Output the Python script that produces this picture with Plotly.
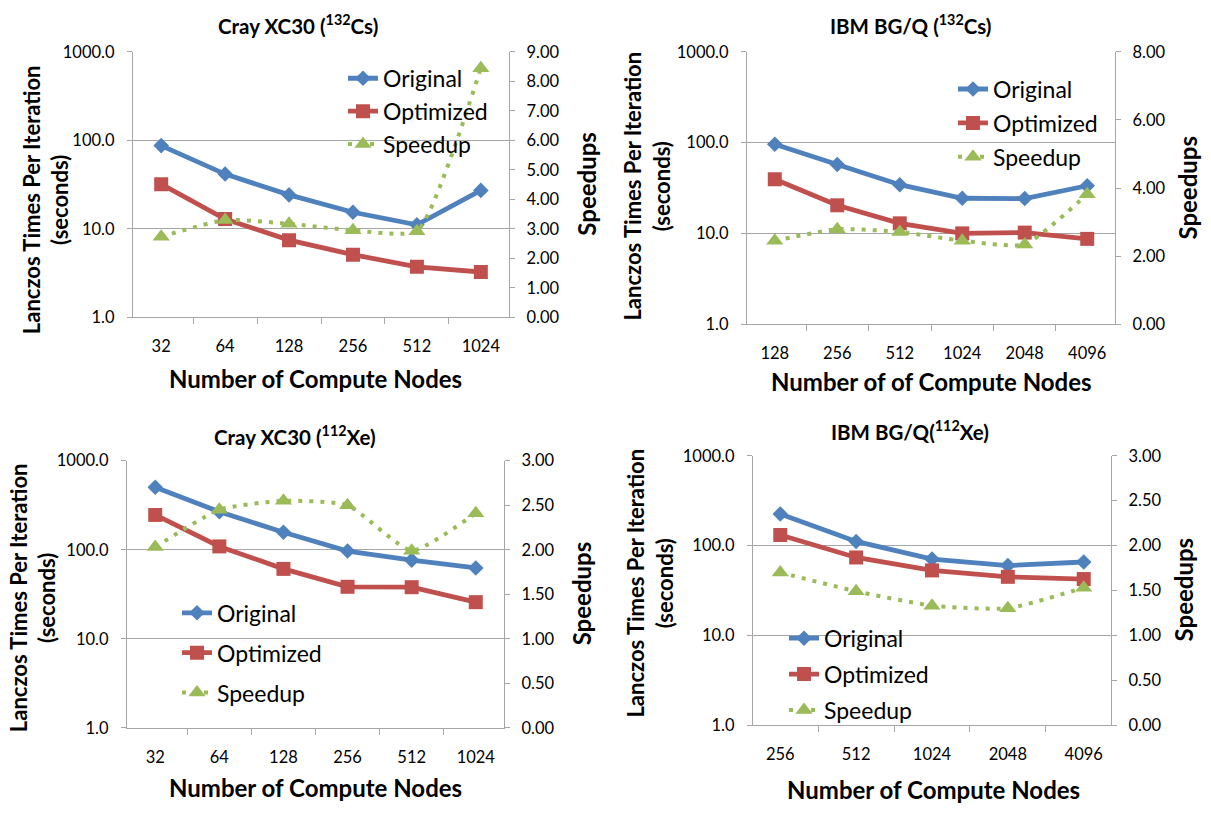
import plotly.graph_objects as go

W, H = 1211, 815
FONT = "Lato"

# ---------------- data ----------------
nodes_cray = ["32", "64", "128", "256", "512", "1024"]
nodes_bgq_cs = ["128", "256", "512", "1024", "2048", "4096"]
nodes_bgq_xe = ["256", "512", "1024", "2048", "4096"]

cray_cs_orig = [87.3, 41.6, 24.2, 15.4, 11.1, 27.2]
cray_cs_opt = [32.0, 12.9, 7.45, 5.1, 3.72, 3.25]
cray_cs_speed = [2.73, 3.30, 3.17, 2.95, 2.92, 8.45]

bgq_cs_orig = [96.0, 57.4, 34.4, 24.4, 24.2, 33.5]
bgq_cs_opt = [39.5, 20.4, 12.9, 10.0, 10.2, 8.7]
bgq_cs_speed = [2.45, 2.79, 2.71, 2.45, 2.34, 3.82]

cray_xe_orig = [502, 267, 157, 96.7, 76.4, 62.5]
cray_xe_opt = [246, 109, 61, 38.4, 38.0, 25.8]
cray_xe_speed = [2.03, 2.45, 2.55, 2.50, 1.99, 2.41]

bgq_xe_orig = [225, 111, 70.6, 59.8, 65.5]
bgq_xe_opt = [131, 73.6, 52.8, 44.8, 42.3]
bgq_xe_speed = [1.70, 1.49, 1.33, 1.30, 1.53]

log_ticks = [1, 10, 100, 1000]
log_ticktext = ["1.0", "10.0", "100.0", "1000.0"]

series_names = ["Original", "Optimized", "Speedup"]

# ---------------- layout config (pixels) ----------------
panels = [
    dict(title="<b>Cray XC30 (<sup>132</sup>Cs)</b>", xtitle="Number of Compute Nodes",
         cats=nodes_cray, orig=cray_cs_orig, opt=cray_cs_opt, sp=cray_cs_speed,
         box=(133, 509, 43, 315), rmax=9, rdt=1,
         t_xy=(298, 15), xt_xy=(315, 378), lt_xy=(46, 195), rt_xy=(587, 178),
         leg=(343, 48), gap=0, cover=(330, 508, 135)),
    dict(title="<b>IBM BG/Q (<sup>132</sup>Cs)</b>", xtitle="Number of of Compute Nodes",
         cats=nodes_bgq_cs, orig=bgq_cs_orig, opt=bgq_cs_opt, sp=bgq_cs_speed,
         box=(747, 1115, 43, 322), rmax=8, rdt=2,
         t_xy=(911, 15), xt_xy=(931, 381), lt_xy=(647, 181), rt_xy=(1188, 182),
         leg=(953, 59), gap=1, cover=(948, 1104, 137)),
    dict(title="<b>Cray XC30 (<sup>112</sup>Xe)</b>", xtitle="Number of Compute Nodes",
         cats=nodes_cray, orig=cray_xe_orig, opt=cray_xe_opt, sp=cray_xe_speed,
         box=(127, 504, 462, 736), rmax=3, rdt=0.5,
         t_xy=(295, 436), xt_xy=(315, 797), lt_xy=(33, 603), rt_xy=(581, 598),
         leg=(177, 596), gap=7, cover=(171, 333, 644)),
    dict(title="<b>IBM BG/Q(<sup>112</sup>Xe)</b>", xtitle="Number of Compute Nodes",
         cats=nodes_bgq_xe, orig=bgq_xe_orig, opt=bgq_xe_opt, sp=bgq_xe_speed,
         box=(753, 1111, 457, 733), rmax=3, rdt=0.5,
         t_xy=(910, 431), xt_xy=(933, 799), lt_xy=(650, 588), rt_xy=(1183, 594),
         leg=(784, 622), gap=3, cover=(781, 938, 641)),
]

BLUE = "#4F81BD"
RED = "#C0504D"
GREEN = "#9BBB59"
GRID = "#A6A6A6"


def px(x):
    return x / W


def py(y):
    return 1 - y / H


fig = go.Figure()
annotations = []
shapes = []
layout = dict(
    width=W, height=H, margin=dict(l=0, r=0, t=0, b=0),
    paper_bgcolor="white", plot_bgcolor="rgba(0,0,0,0)",
    font=dict(family=FONT, color="black"),
    showlegend=True,
)

for i, p in enumerate(panels):
    n = i + 1
    xa = "x" if n == 1 else f"x{n}"
    yl_idx = 2 * n - 1
    yr_idx = 2 * n
    yl = "y" if yl_idx == 1 else f"y{yl_idx}"
    yr = f"y{yr_idx}"
    leg = "legend" if n == 1 else f"legend{n}"

    x0, x1, y0, y1 = p["box"]

    fig.add_trace(go.Scatter(
        x=p["cats"], y=p["orig"], name=series_names[0], xaxis=xa, yaxis=yl,
        mode="lines+markers", legend=leg, legendgroup=f"o{n}",
        line=dict(color=BLUE, width=4.8),
        marker=dict(symbol="diamond", size=12, color=BLUE)))
    fig.add_trace(go.Scatter(
        x=p["cats"], y=p["opt"], name=series_names[1], xaxis=xa, yaxis=yl,
        mode="lines+markers", legend=leg, legendgroup=f"p{n}",
        line=dict(color=RED, width=4.8),
        marker=dict(symbol="square", size=14, color=RED)))
    fig.add_trace(go.Scatter(
        x=p["cats"], y=p["sp"], name=series_names[2], xaxis=xa, yaxis=yr,
        mode="lines+markers", legend=leg, legendgroup=f"s{n}",
        line=dict(color=GREEN, width=4, dash="4px,7px", shape="spline", smoothing=0.5),
        marker=dict(symbol="triangle-up", size=15, color=GREEN)))

    xkey = "xaxis" if n == 1 else f"xaxis{n}"
    ylkey = "yaxis" if yl_idx == 1 else f"yaxis{yl_idx}"
    yrkey = f"yaxis{yr_idx}"

    layout[xkey] = dict(
        type="category", domain=[px(x0), px(x1)], anchor=yl,
        tickson="boundaries", ticks="outside", ticklen=6, tickcolor=GRID,
        showline=True, linecolor=GRID, linewidth=1.3, showgrid=False,
        tickfont=dict(family=FONT, size=16.5, color="black"),
        ticklabelstandoff=14, fixedrange=True)
    layout[ylkey] = dict(
        type="log", domain=[py(y1), py(y0)], anchor=xa, range=[0, 3],
        tickvals=log_ticks, ticktext=log_ticktext,
        showgrid=True, gridcolor=GRID, gridwidth=1.3,
        ticks="outside", ticklen=5, tickcolor=GRID,
        showline=True, linecolor=GRID, linewidth=1.3, zeroline=False,
        tickfont=dict(family=FONT, size=16.5, color="black"),
        ticklabelstandoff=9, fixedrange=True)
    layout[yrkey] = dict(
        overlaying=yl, anchor=xa, side="right", range=[0, p["rmax"]],
        dtick=p["rdt"], tick0=0, tickformat=".2f", showgrid=False,
        ticks="outside", ticklen=5, tickcolor=GRID,
        showline=True, linecolor=GRID, linewidth=1.3, zeroline=False,
        tickfont=dict(family=FONT, size=16.5, color="black"),
        ticklabelstandoff=8, fixedrange=True)

    lx, ly = p["leg"]
    layout[leg] = dict(
        x=px(lx), y=py(ly), xanchor="left", yanchor="top",
        bgcolor="rgba(0,0,0,0)", borderwidth=0,
        font=dict(family=FONT, size=23, color="black"),
        tracegroupgap=p["gap"], traceorder="grouped", itemwidth=30)

    # cover the gridline segment hidden behind the legend
    cx0, cx1, cy = p["cover"]
    shapes.append(dict(type="rect", xref="paper", yref="paper",
                       x0=px(cx0), x1=px(cx1), y0=py(cy + 3), y1=py(cy - 3),
                       fillcolor="white", line=dict(width=0), layer="between"))

    tx, ty = p["t_xy"]
    annotations.append(dict(text=p["title"], x=px(tx), y=py(ty), xref="paper", yref="paper",
                            showarrow=False, xanchor="center", yanchor="middle",
                            font=dict(family=FONT, size=20.5, color="black")))
    xtx, xty = p["xt_xy"]
    annotations.append(dict(text="<b>" + p["xtitle"] + "</b>", x=px(xtx), y=py(xty),
                            xref="paper", yref="paper", showarrow=False,
                            xanchor="center", yanchor="middle",
                            font=dict(family=FONT, size=24, color="black")))
    ltx, lty = p["lt_xy"]
    annotations.append(dict(text="<b>Lanczos Times Per Iteration</b><br><b>(seconds)</b>",
                            x=px(ltx), y=py(lty), xref="paper", yref="paper",
                            showarrow=False, textangle=-90, xanchor="center", yanchor="middle",
                            font=dict(family=FONT, size=22, color="black")))
    rtx, rty = p["rt_xy"]
    annotations.append(dict(text="<b>Speedups</b>", x=px(rtx), y=py(rty),
                            xref="paper", yref="paper", showarrow=False, textangle=-90,
                            xanchor="center", yanchor="middle",
                            font=dict(family=FONT, size=24, color="black")))

layout["annotations"] = annotations
layout["shapes"] = shapes
fig.update_layout(**layout)

fig.write_html("out.html", config={"displayModeBar": False})
